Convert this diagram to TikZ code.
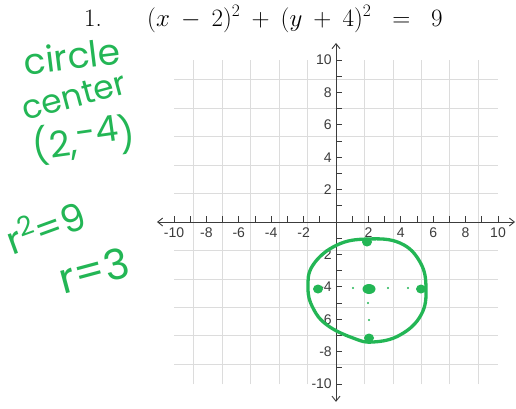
\documentclass[tikz,border=0pt]{standalone}
\usepackage{fix-cm}
\usepackage{fontspec}
\newfontfamily\labfont{Liberation Sans}
\newfontfamily\handfont{Poppins}
\usetikzlibrary{arrows.meta}
\definecolor{marker}{RGB}{35,182,85}
\definecolor{gridgray}{RGB}{220,220,220}
\definecolor{axisgray}{RGB}{60,60,60}
\begin{document}
\begin{tikzpicture}[x=1pt,y=-1pt,
  gridline/.style={gridgray, line width=0.7pt},
  axisline/.style={axisgray, line width=0.9pt,
    {Straight Barb[length=5pt,width=8pt]}-{Straight Barb[length=5pt,width=8pt]}},
  tickmark/.style={axisgray, line width=0.8pt},
  xlab/.style={font=\labfont\fontsize{14}{14}\selectfont, text=axisgray, anchor=north, inner sep=0pt},
  ylab/.style={font=\labfont\fontsize{14}{14}\selectfont, text=axisgray, anchor=east, inner sep=0pt},
  hand/.style={text=marker, font=\handfont\fontsize{36}{36}\selectfont, inner sep=0pt},
  pen/.style={marker, line width=3.3pt, line cap=round, line join=round},
  titletext/.style={font=\fontsize{25}{25}\selectfont, anchor=base west, inner sep=0pt}]
\useasboundingbox (0,0) rectangle (516,408);
\fill[white] (0,0) rectangle (516,408);
% title
\node[titletext] (num) at (84,26) {1.};
\node[titletext] (eq) at (147,26) {\medmuskip=8mu$(x-2)^2+(y+4)^2\;\;=\;\;9$};
% grid and axes
\begin{scope}[shift={(336,222)}, x=16.2pt, y=16.2pt]
  \draw[gridline] (-10,-10) grid (10,10);
  \coordinate (xl) at (-11.05,0);
  \coordinate (xr) at (11.05,0);
  \coordinate (yb) at (0,-11.1);
  \coordinate (yt) at (0,11.05);
  \draw[axisline] (xl) -- (xr);
  \draw[axisline] (yb) -- (yt);
  \foreach \i in {-10,...,-1,1,2,...,10} {
    \draw[tickmark] (\i,0) -- (\i,0.38);
    \draw[tickmark] (0,\i) -- (0.38,\i);
  }
  \foreach \i in {-10,-8,...,-2,2,4,...,10} {
    \node[xlab] (xl\i) at (\i,-0.35) {\i};
    \node[ylab] (yl\i) at (-0.25,\i) {\i};
  }
\end{scope}
% green circle
\draw[pen] plot[smooth cycle, tension=0.7] coordinates {(368,239) (400,243) (420,262) (426,288) (421,315) (400,335) (373,342) (353,338) (327,325) (313,308) (308,288) (313,265) (337,245)};
\fill[marker] (367,242) ellipse (5 and 4.5);
\fill[marker] (318,289) ellipse (5 and 4.5);
\fill[marker] (369,289) ellipse (6.5 and 5);
\fill[marker] (421,289) ellipse (5 and 4.5);
\fill[marker] (369,338) ellipse (5 and 4.5);
\foreach \p in {(353,288),(388,288),(408,288),(368,303),(369,320)} \fill[marker] \p circle (1.1);
% handwritten notes
\node[hand, rotate=7] (n1) at (72,56) {circle};
\node[hand, rotate=15, font=\handfont\fontsize{33}{33}\selectfont] (n2) at (74,96) {center};
\node[hand, rotate=8] (n3) at (84,140) {(2,\raisebox{8pt}{-4})};
\node[hand, rotate=20, font=\handfont\fontsize{38}{38}\selectfont] (n4) at (45,226) {r\textsuperscript{2}=9};
\node[hand, rotate=15, font=\handfont\fontsize{42}{42}\selectfont] (n5) at (94,270) {r=3};
\end{tikzpicture}
\end{document}
